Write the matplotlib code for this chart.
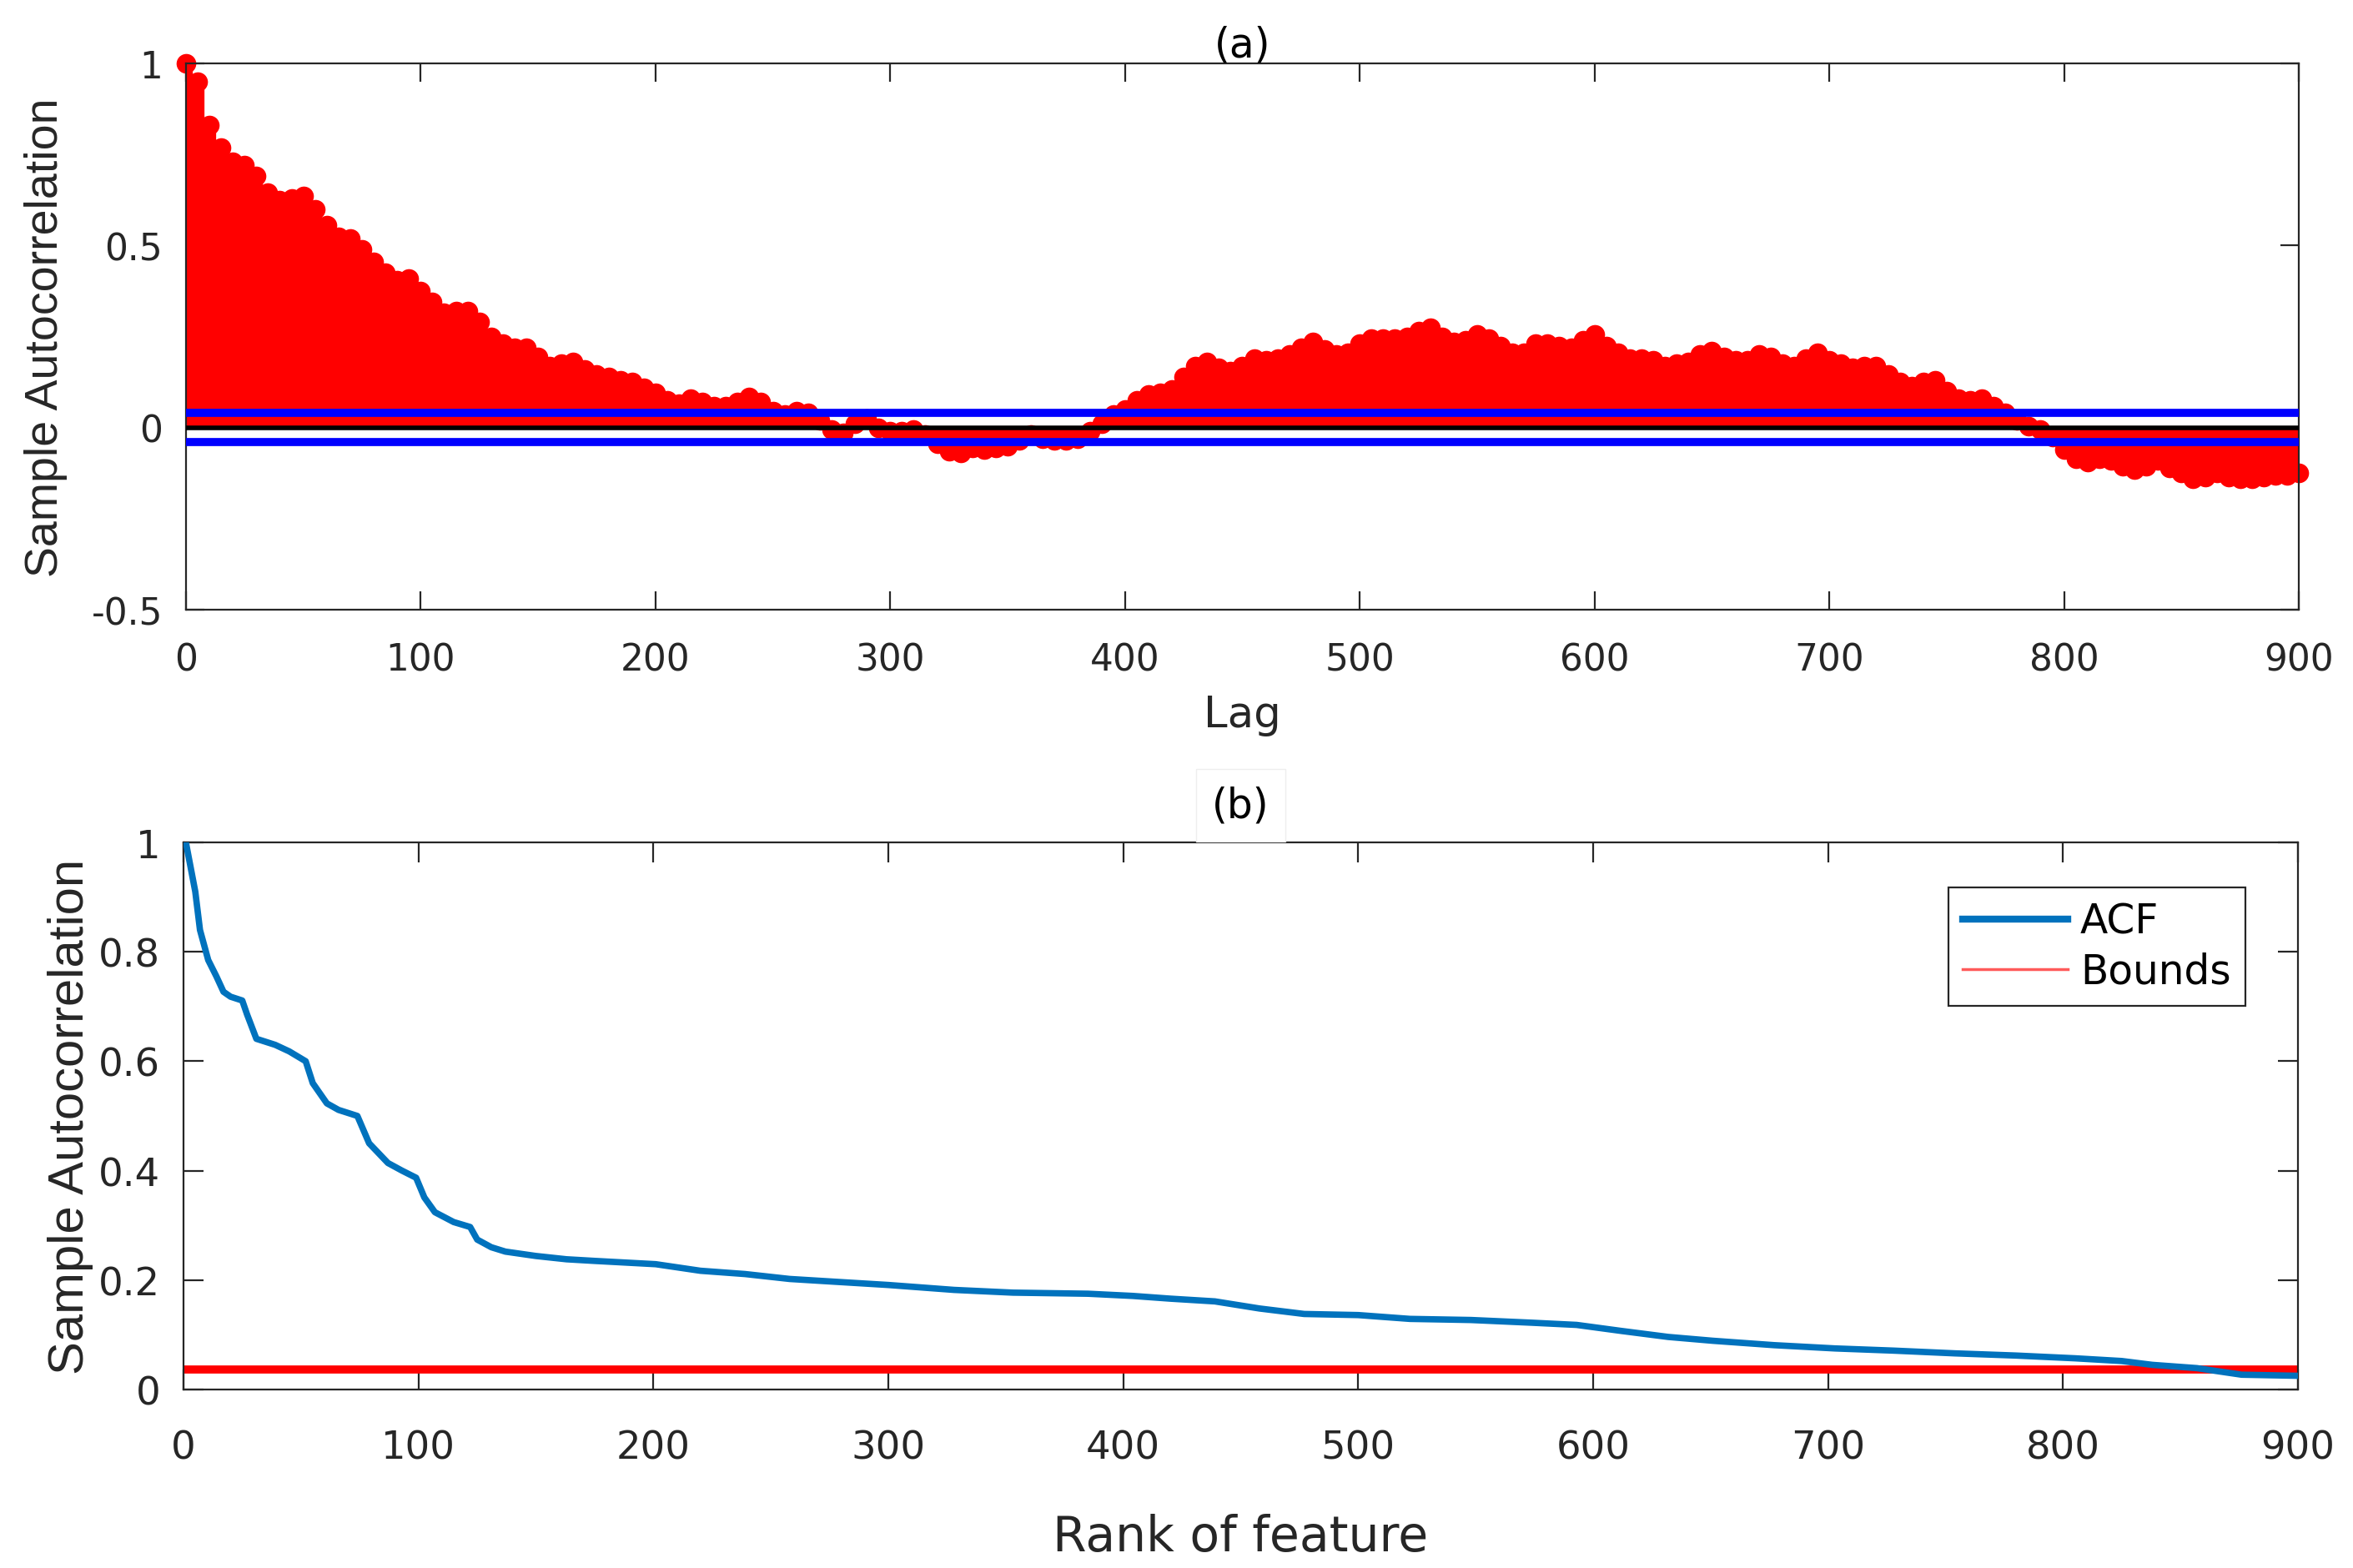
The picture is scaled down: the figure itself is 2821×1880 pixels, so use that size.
import numpy as np
import matplotlib
matplotlib.use("Agg")
import matplotlib.pyplot as plt
from matplotlib.lines import Line2D

# DejaVu for horizontal text (its wider glyphs match the stretched reference),
# Liberation Sans for the rotated y labels
plt.rcParams['font.family'] = ['DejaVu Sans']
ylab_font = ['Liberation Sans', 'DejaVu Sans']

# ---- data ----
# (a) sample autocorrelation, every 5 lags from 0 to 900
lags = np.arange(0, 901, 5)
acf_vals = [
    1.00, 0.95, 0.83, 0.77, 0.73, 0.72, 0.69, 0.645, 0.625, 0.63,
    0.635, 0.60, 0.555, 0.525, 0.52, 0.49, 0.455, 0.425, 0.405, 0.41,
    0.375, 0.345, 0.315, 0.32, 0.32, 0.29, 0.25, 0.23, 0.22, 0.22,
    0.195, 0.17, 0.175, 0.18, 0.16, 0.145, 0.14, 0.13, 0.125, 0.11,
    0.095, 0.075, 0.065, 0.08, 0.07, 0.06, 0.06, 0.07, 0.085, 0.07,
    0.045, 0.035, 0.045, 0.04, 0.02, -0.005, -0.015, 0.01, 0.025, 0.0,
    -0.01, -0.01, -0.005, -0.02, -0.045, -0.065, -0.07, -0.055, -0.06, -0.055,
    -0.05, -0.035, -0.02, -0.03, -0.035, -0.035, -0.03, -0.01, 0.01, 0.035,
    0.05, 0.075, 0.09, 0.095, 0.105, 0.14, 0.17, 0.18, 0.165, 0.155,
    0.17, 0.19, 0.185, 0.19, 0.20, 0.22, 0.235, 0.215, 0.20, 0.205,
    0.23, 0.245, 0.245, 0.245, 0.25, 0.265, 0.275, 0.25, 0.235, 0.24,
    0.255, 0.245, 0.225, 0.205, 0.205, 0.23, 0.23, 0.225, 0.22, 0.24,
    0.255, 0.225, 0.205, 0.19, 0.19, 0.185, 0.17, 0.175, 0.18, 0.20,
    0.21, 0.195, 0.185, 0.185, 0.20, 0.195, 0.175, 0.17, 0.19, 0.205,
    0.185, 0.175, 0.165, 0.17, 0.17, 0.145, 0.125, 0.115, 0.125, 0.13,
    0.10, 0.08, 0.075, 0.08, 0.06, 0.04, 0.02, 0.005, -0.005, -0.025,
    -0.06, -0.085, -0.095, -0.085, -0.09, -0.105, -0.115, -0.105, -0.09, -0.11,
    -0.125, -0.14, -0.135, -0.125, -0.135, -0.14, -0.14, -0.135, -0.13, -0.13,
    -0.125,
]
bound = 0.04

# (b) sorted ACF by rank of feature
rank = [1, 5, 7, 10.5, 14, 17, 20, 25, 27, 31, 39, 45, 52, 55, 61, 66, 74, 79,
        87, 93, 99, 102.5, 107, 115, 122, 125, 131, 137, 150, 163, 175, 201,
        220, 239, 258, 277, 300, 328, 353, 385, 404, 420, 439, 458, 477, 500,
        522, 548, 574, 593, 612, 632, 651, 677, 703, 728, 754, 780, 805, 825,
        838, 857, 876, 900]
acf_sorted = [1.0, 0.91, 0.84, 0.785, 0.755, 0.727, 0.718, 0.711, 0.686, 0.641,
              0.63, 0.618, 0.60, 0.56, 0.523, 0.511, 0.50, 0.45, 0.414, 0.40,
              0.387, 0.351, 0.324, 0.306, 0.297, 0.274, 0.26, 0.252, 0.244,
              0.238, 0.235, 0.229, 0.217, 0.211, 0.202, 0.197, 0.191, 0.182,
              0.177, 0.175, 0.171, 0.166, 0.161, 0.148, 0.138, 0.136, 0.129,
              0.127, 0.122, 0.118, 0.107, 0.096, 0.089, 0.081, 0.075, 0.071,
              0.066, 0.062, 0.057, 0.052, 0.045, 0.039, 0.027, 0.025]
bound_b = 0.037

# ---- figure ----
fig = plt.figure(figsize=(28.21, 18.81), dpi=100)
ax1 = fig.add_axes([0.079, 0.6108, 0.898, 0.3482])
ax2 = fig.add_axes([0.078, 0.1138, 0.8986, 0.3487])

edge = '#262626'


def style_axes(ax, tick_size, ticklen):
    for s in ax.spines.values():
        s.set_color(edge)
        s.set_linewidth(1.6)
    ax.tick_params(direction='in', length=ticklen, width=1.6, colors=edge,
                   labelsize=tick_size, top=True, right=True)


# (a) stem plot
ax1.vlines(lags, 0, acf_vals, color='red', linewidth=11, capstyle='butt', zorder=2)
ax1.plot(lags, acf_vals, 'o', color='red', markersize=17, markeredgewidth=0,
         clip_on=False, zorder=2)
ax1.axhline(bound, color='blue', linewidth=7, zorder=3)
ax1.axhline(-bound, color='blue', linewidth=7, zorder=3)
ax1.axhline(0, color='black', linewidth=4, zorder=3)
ax1.set_xlim(0, 900)
ax1.set_ylim(-0.5, 1)
ax1.set_xticks(np.arange(0, 901, 100))
ax1.set_yticks([-0.5, 0, 0.5, 1])
ax1.set_yticklabels(['-0.5', '0', '0.5', '1'])
style_axes(ax1, 31.5, 16)
ax1.tick_params(axis='x', pad=28)
ax1.tick_params(axis='y', pad=20)
ax1.set_xlabel('Lag', fontsize=37, color=edge, labelpad=14)
ax1.set_ylabel('Sample Autocorrelation', fontsize=40, color=edge, family=ylab_font)
ax1.yaxis.set_label_coords(-0.056, 0.5)
ax1.set_title('(a)', fontsize=35, color='black', pad=6)

# (b) sorted ACF
ax2.plot(rank, acf_sorted, color='#0072BD', linewidth=5.5, zorder=3)
ax2.axhline(bound_b, color='red', linewidth=7, zorder=2)
ax2.set_xlim(0, 900)
ax2.set_ylim(0, 1)
ax2.set_xticks(np.arange(0, 901, 100))
ax2.set_yticks([0, 0.2, 0.4, 0.6, 0.8, 1])
ax2.set_yticklabels(['0', '0.2', '0.4', '0.6', '0.8', '1'])
style_axes(ax2, 33.5, 17)
ax2.tick_params(axis='x', pad=34)
ax2.tick_params(axis='y', pad=20)
ax2.set_xlabel('Rank of feature', fontsize=42, color=edge, labelpad=40)
ax2.set_ylabel('Sample Autocorrelation', fontsize=43, color=edge, family=ylab_font)
ax2.yaxis.set_label_coords(-0.0426, 0.5)
ax2.set_title('(b)', fontsize=35, color='black', pad=22,
              bbox=dict(facecolor='white', edgecolor='#eeeeee', pad=14))

handles = [Line2D([], [], color='#0072BD', linewidth=6),
           Line2D([], [], color='#ff5a5a', linewidth=2.5)]
leg = ax2.legend(handles, ['ACF', 'Bounds'], loc='upper right',
                 bbox_to_anchor=(0.975, 0.918), fontsize=35, frameon=True,
                 fancybox=False, framealpha=1, edgecolor=edge,
                 handlelength=2.6, handletextpad=0.3, borderpad=0.35,
                 labelspacing=0.25, borderaxespad=0)
leg.get_frame().set_linewidth(1.6)

fig.savefig('out.png', dpi=100)
